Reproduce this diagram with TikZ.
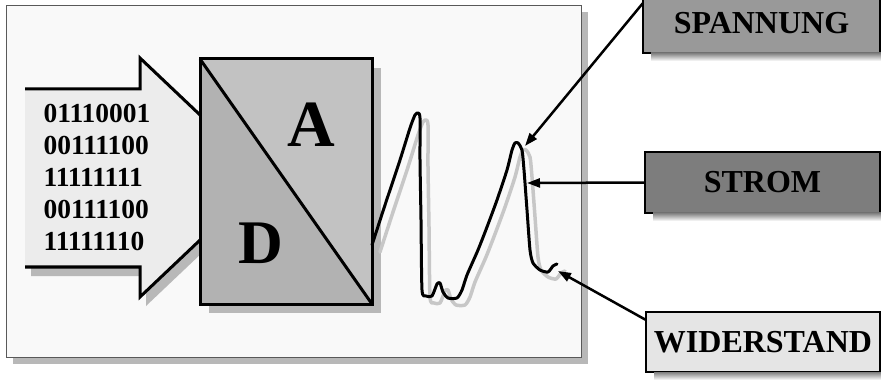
\documentclass[tikz,border=0pt]{standalone}
\usepackage{fontspec}
\setmainfont{Liberation Serif}
\usetikzlibrary{arrows.meta,shadows}

\definecolor{panelbg}{gray}{0.975}
\definecolor{shade}{gray}{0.72}
\definecolor{waveshade}{gray}{0.78}
\definecolor{arrowbg}{gray}{0.925}
\definecolor{adlow}{gray}{0.70}
\definecolor{adup}{gray}{0.76}
\definecolor{spanbg}{gray}{0.60}
\definecolor{strombg}{gray}{0.49}
\definecolor{widbg}{gray}{0.90}

\tikzset{
  flatshadow/.style={drop shadow={shadow xshift=#1pt,shadow yshift=-#1pt,fill=shade,opacity=1}},
  labelbox/.style={draw=black, line width=2.5pt, inner sep=0pt, outer sep=0pt,
    minimum height=60pt, font=\fontsize{32}{32}\selectfont\bfseries},
  pointer/.style={line width=2.5pt, -{Triangle[length=13pt,width=9pt]}},
  wave/.style={line width=3pt, line join=round, line cap=round},
}

\begin{document}
\begin{tikzpicture}[x=1pt,y=-1pt]
  \useasboundingbox (0,0) rectangle (881,382);

  % Panel
  \fill[panelbg, flatshadow=7] (6,5) rectangle (581,357);
  \draw[gray!70!black, line width=0.8pt] (6,5) rectangle (581,357);

  % Input arrow with the bits
  \fill[arrowbg, drop shadow={shadow xshift=6pt,shadow yshift=-9pt,fill=shade,opacity=1}]
    (25,89) -- (140,89) -- (140,58) -- (266,177.5) -- (140,297) -- (140,267) -- (25,267) -- cycle;
  \draw[line width=3pt, line join=miter]
    (25,89) -- (140,89) -- (140,58) -- (266,177.5) -- (140,297) -- (140,267) -- (25,267);
  \node[font=\fontsize{27.5}{32}\selectfont\bfseries, align=left] (bits) at (97,177.5)
    {01110001\\00111100\\11111111\\00111100\\11111110};

  % Converter box
  \node[fill=adlow, inner sep=0pt, outer sep=0pt, minimum width=172pt, minimum height=245pt,
    flatshadow=9] (ad) at (286,181.5) {};
  \fill[adup] (ad.north west) -- (ad.north east) -- (ad.south east) -- cycle;
  \draw[line width=3pt, line join=miter] (ad.north west) rectangle (ad.south east);
  \draw[line width=3pt] (ad.north west) -- (ad.south east);
  \node[font=\fontsize{66}{66}\selectfont\bfseries] (alet) at (311.5,125) {A};
  \node[font=\fontsize{62}{62}\selectfont\bfseries] (dlet) at (261,243) {D};

  % Signal
  \begin{scope}[shift={(8,7)}]
    \draw[wave, waveshade, line width=3.5pt] plot[smooth, tension=0.4] coordinates {
      (372,245) (385,205) (400,160) (410,128) (415,115) (418,113) (420,118) (420,160)
      (421,220) (422,290) (426,296) (432,296) (437,284) (440,283) (443,292) (448,298)
      (457,298) (462,290) (467,275) (478,250) (487,227) (497,200) (507,170) (512,150)
      (515,143) (518,143) (522,150) (524,170) (527,210) (530,250) (533,263) (540,270)
      (548,272) (553,266) (557,264)};
  \end{scope}
  \draw[wave] plot[smooth, tension=0.4] coordinates {
    (372,245) (385,205) (400,160) (410,128) (415,115) (418,113) (420,118) (420,160)
    (421,220) (422,290) (426,296) (432,296) (437,284) (440,283) (443,292) (448,298)
    (457,298) (462,290) (467,275) (478,250) (487,227) (497,200) (507,170) (512,150)
    (515,143) (518,143) (522,150) (524,170) (527,210) (530,250) (533,263) (540,270)
    (548,272) (553,266) (557,264)};
  \coordinate (peak) at (525,146);
  \coordinate (slope) at (527,183);
  \coordinate (tail) at (558,271);

  % Labels
  \node[labelbox, fill=spanbg, minimum width=237pt] (span) at (761.5,23) {SPANNUNG};
  \node[labelbox, fill=strombg, minimum width=235pt, minimum height=61pt] (strom) at (762.5,182.5) {STROM};
  \node[labelbox, fill=widbg, minimum width=234pt] (wid) at (763,342) {WIDERSTAND};
  \foreach \n in {span,strom,wid}
    \fill[shade] ([xshift=8pt]\n.south west) rectangle ([shift={(8pt,-8pt)}]\n.south east);

  % Pointers
  \draw[pointer] ([yshift=-10pt]span.north west) -- (peak);
  \draw[pointer] (strom.west) -- (slope);
  \draw[pointer] ([yshift=-8pt]wid.north west) -- (tail);
\end{tikzpicture}
\end{document}
